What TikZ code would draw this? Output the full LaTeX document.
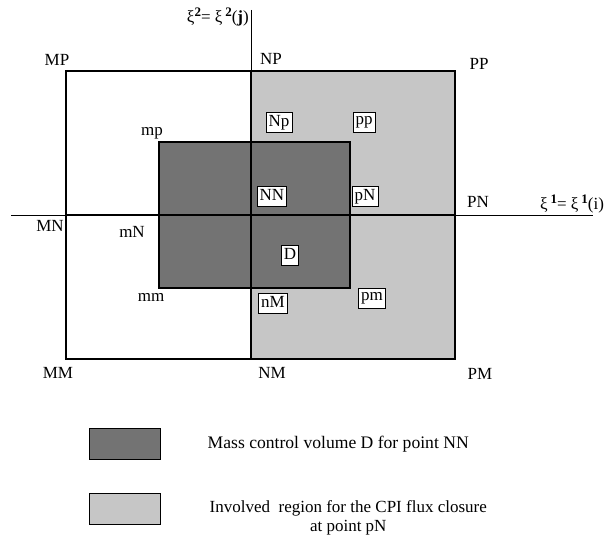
\documentclass[tikz,border=0pt]{standalone}
\usepackage{fontspec}
\setmainfont{Liberation Serif}
\usepackage{tikz}
\usetikzlibrary{positioning}
\definecolor{darkCell}{HTML}{737373}
\definecolor{lightCell}{HTML}{C6C6C6}
\newcommand{\supnum}[1]{\raisebox{5.5pt}{\fontsize{13}{13}\selectfont\textbf{#1}}}

\begin{document}
\begin{tikzpicture}[
      x=1pt, y=-1pt,
      every node/.style={font=\fontsize{17}{19}\selectfont, inner sep=1pt},
      frame/.style={draw=black, line width=1.6pt},
      axis/.style={draw=black, line width=0.8pt},
      ptlabel/.style={anchor=center},
      boxlabel/.style={draw=black, fill=white, line width=0.7pt, inner xsep=2.5pt, inner ysep=1pt,
                       minimum height=20pt, text depth=3pt},
      legendbox/.style={draw=black, line width=1pt, minimum width=71pt, minimum height=31pt},
      legendtext/.style={anchor=west, align=left},
    ]

      \useasboundingbox (0,0) rectangle (608,537);

      % grid corners
      \coordinate (mmc) at (66,359);
      \coordinate (ppc) at (455,71);

      % shaded regions
      \fill[lightCell] (251,71) rectangle (455,359);
      \fill[darkCell] (159,142) rectangle (350,288);
      \draw[frame] (159,142) rectangle (350,288);
      \draw[frame] (mmc) rectangle (ppc);

      % axes
      \coordinate (xaxL) at (11,215);
      \coordinate (xaxR) at (593,215);
      \coordinate (yaxT) at (251,10);
      \coordinate (yaxB) at (251,359);
      \draw[axis] (xaxL) -- (xaxR);
      \draw[axis] (yaxT) -- (yaxB);
      \draw[frame] (66,215) -- (455,215);
      \draw[frame] (251,71) -- (251,359);

      % axis labels
      \node[anchor=east] (xi2) at (250,17) {ξ\supnum{2}= ξ\,\supnum{2}(\textbf{j})};
      \node[anchor=west] (xi1) at (539,204) {ξ\,\supnum{1}= ξ\,\supnum{1}(i)};

      % corner points
      \node[ptlabel] (MP) at (57,60) {MP};
      \node[ptlabel] (NP) at (271,59) {NP};
      \node[ptlabel] (PP) at (479,64) {PP};
      \node[ptlabel] (MN) at (50,226) {MN};
      \node[ptlabel] (PN) at (478,202) {PN};
      \node[ptlabel] (MM) at (58,373) {MM};
      \node[ptlabel] (NM) at (272,373) {NM};
      \node[ptlabel] (PM) at (480,374) {PM};

      % inner points
      \node[ptlabel] (mp) at (152,133) {mp};
      \node[ptlabel] (mN) at (132,232) {mN};
      \node[ptlabel] (mm) at (151,297) {mm};

      % boxed points
      \node[boxlabel] (Np) at (279,122) {Np};
      \node[boxlabel] (pp) at (364,122) {pp};
      \node[boxlabel] (NN) at (272,196) {NN};
      \node[boxlabel] (pN) at (365,196) {pN};
      \node[boxlabel] (D) at (290,255) {D};
      \node[boxlabel] (nM) at (273,303) {nM};
      \node[boxlabel] (pm) at (372,298) {pm};

      % legend
      \node[legendbox, fill=darkCell] (legD) at (124.5,444) {};
      \node[legendtext, right=46pt of legD, font=\fontsize{17.6}{20}\selectfont] (legDtxt) {Mass control volume D for point NN};
      \node[legendbox, fill=lightCell] (legR) at (124.5,509) {};
      \node[legendtext, align=center, right=48pt of legR, yshift=-9pt] (legRtxt) {Involved\ \ region for the CPI flux closure\\at point pN};

    \end{tikzpicture}
\end{document}
